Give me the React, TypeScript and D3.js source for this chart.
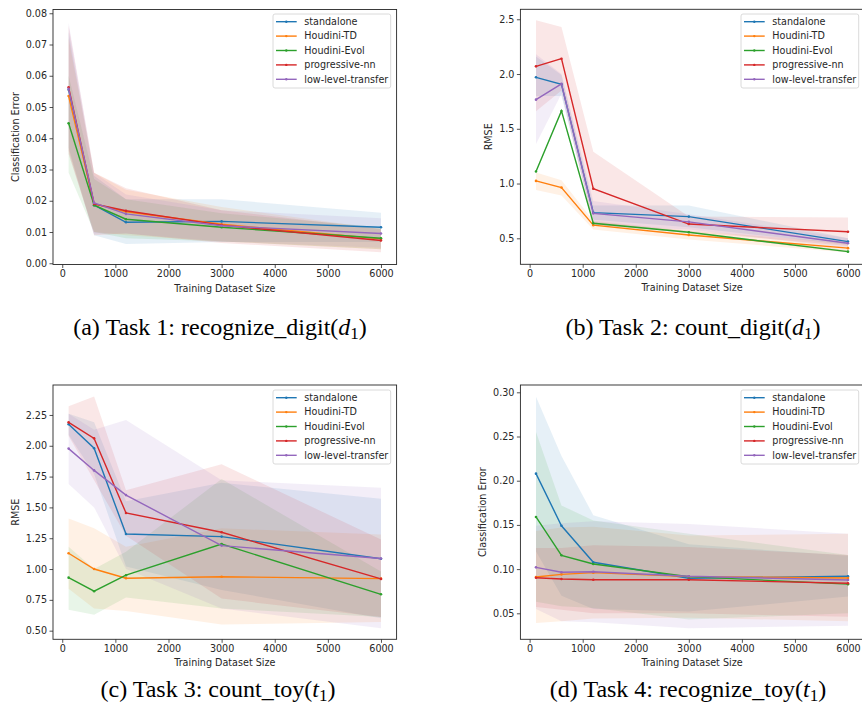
import { useEffect, useRef } from "react";
import * as d3 from "d3";

// training set sizes (x) shared by all four tasks
const sizes = [120, 600, 1200, 3000, 6000];
const methods = ["standalone", "Houdini-TD", "Houdini-Evol", "progressive-nn", "low-level-transfer"];
const colors = ["#1f77b4", "#ff7f0e", "#2ca02c", "#d62728", "#9467bd"];
const xTicks = [0, 1000, 2000, 3000, 4000, 5000, 6000];

// Task 1: recognize_digit
const task1Mean = [
  [0.0555, 0.0186, 0.0131, 0.0134, 0.0115],
  [0.0535, 0.019, 0.0165, 0.0125, 0.0078],
  [0.0448, 0.0186, 0.0141, 0.0115, 0.008],
  [0.0563, 0.019, 0.0168, 0.0122, 0.0073],
  [0.0558, 0.0193, 0.0158, 0.012, 0.0095],
];
const task1Upper = [
  [0.074, 0.028, 0.0205, 0.0205, 0.0162],
  [0.072, 0.029, 0.0235, 0.018, 0.011],
  [0.06, 0.027, 0.0205, 0.016, 0.0115],
  [0.076, 0.029, 0.024, 0.017, 0.011],
  [0.077, 0.029, 0.022, 0.017, 0.0144],
];
const task1Lower = [
  [0.037, 0.009, 0.0062, 0.0068, 0.0068],
  [0.035, 0.01, 0.009, 0.007, 0.0045],
  [0.029, 0.01, 0.008, 0.007, 0.0045],
  [0.036, 0.009, 0.0095, 0.0065, 0.0035],
  [0.035, 0.0095, 0.0095, 0.007, 0.005],
];
const task1YTicks = [0, 0.01, 0.02, 0.03, 0.04, 0.05, 0.06, 0.07, 0.08];

// Task 2: count_digit
const task2Mean = [
  [1.97, 1.906, 0.734, 0.698, 0.47],
  [1.024, 0.963, 0.62, 0.53, 0.41],
  [1.11, 1.663, 0.637, 0.555, 0.378],
  [2.07, 2.14, 0.953, 0.63, 0.56],
  [1.766, 1.91, 0.728, 0.65, 0.455],
];
const task2Upper = [
  [2.16, 1.99, 0.8, 0.8, 0.5],
  [1.1, 1.03, 0.66, 0.57, 0.46],
  [1.12, 1.67, 0.65, 0.565, 0.39],
  [2.49, 2.43, 1.29, 0.7, 0.69],
  [2.18, 2.0, 0.84, 0.72, 0.5],
];
const task2Lower = [
  [1.8, 1.8, 0.67, 0.6, 0.44],
  [0.94, 0.89, 0.58, 0.49, 0.37],
  [1.1, 1.655, 0.625, 0.545, 0.37],
  [1.66, 1.85, 0.62, 0.56, 0.43],
  [1.36, 1.82, 0.62, 0.58, 0.41],
];
const task2YTicks = [0.5, 1.0, 1.5, 2.0, 2.5];

// Task 3: count_toy
const task3Mean = [
  [2.174, 1.98, 1.284, 1.263, 1.084],
  [1.128, 1.0, 0.925, 0.938, 0.922],
  [0.93, 0.82, 0.95, 1.203, 0.795],
  [2.19, 2.06, 1.455, 1.298, 0.92],
  [1.977, 1.8, 1.6, 1.19, 1.085],
];
const task3Upper = [
  [2.26, 2.19, 1.55, 1.7, 1.57],
  [1.41, 1.33, 1.18, 1.33, 1.28],
  [1.18, 1.0, 1.14, 1.73, 0.98],
  [2.32, 2.4, 1.64, 1.85, 1.24],
  [2.26, 2.13, 2.21, 1.72, 1.66],
];
const task3Lower = [
  [2.09, 1.77, 1.02, 0.83, 0.6],
  [0.84, 0.68, 0.66, 0.55, 0.57],
  [0.67, 0.63, 0.77, 0.68, 0.61],
  [2.08, 1.72, 1.27, 0.76, 0.61],
  [1.69, 1.5, 1.0, 0.68, 0.52],
];
const task3YTicks = [0.5, 0.75, 1.0, 1.25, 1.5, 1.75, 2.0, 2.25];

// Task 4: recognize_toy
const task4Mean = [
  [0.208, 0.149, 0.1077, 0.0896, 0.092],
  [0.091, 0.094, 0.096, 0.0915, 0.09],
  [0.159, 0.1156, 0.1058, 0.0915, 0.083],
  [0.0903, 0.0888, 0.088, 0.088, 0.084],
  [0.102, 0.0964, 0.097, 0.092, 0.0877],
];
const task4Upper = [
  [0.295, 0.228, 0.161, 0.128, 0.115],
  [0.143, 0.147, 0.148, 0.138, 0.14],
  [0.255, 0.172, 0.155, 0.14, 0.116],
  [0.124, 0.124, 0.127, 0.125, 0.116],
  [0.149, 0.152, 0.154, 0.151, 0.14],
];
const task4Lower = [
  [0.12, 0.07, 0.055, 0.052, 0.069],
  [0.039, 0.041, 0.044, 0.045, 0.041],
  [0.063, 0.058, 0.056, 0.043, 0.05],
  [0.057, 0.054, 0.05, 0.05, 0.046],
  [0.055, 0.041, 0.04, 0.033, 0.036],
];
const task4YTicks = [0.05, 0.1, 0.15, 0.2, 0.25, 0.3];

const captions = [
  { label: "(a) Task 1: recognize_digit(", v: "d", sub: "1" },
  { label: "(b) Task 2: count_digit(", v: "d", sub: "1" },
  { label: "(c) Task 3: count_toy(", v: "t", sub: "1" },
  { label: "(d) Task 4: recognize_toy(", v: "t", sub: "1" },
];

const panels = [
  { box: { left: 53, right: 396.6, top: 9.5, bottom: 264.5 }, yDomain: [-0.0004, 0.0812], yTicks: task1YTicks, fmt: ".2f", ylabel: "Classification Error", ylabelX: 16, mean: task1Mean, lower: task1Lower, upper: task1Upper, legend: { x: 273, y: 14 }, cap: { x: 220, y: 335 } },
  { box: { left: 520.4, right: 863.6, top: 9.3, bottom: 264.3 }, yDomain: [0.2626, 2.591], yTicks: task2YTicks, fmt: ".1f", ylabel: "RMSE", ylabelX: 489, mean: task2Mean, lower: task2Lower, upper: task2Upper, legend: { x: 741, y: 14 }, cap: { x: 693, y: 335 } },
  { box: { left: 53, right: 396.6, top: 385, bottom: 639.3 }, yDomain: [0.43, 2.493], yTicks: task3YTicks, fmt: ".2f", ylabel: "RMSE", ylabelX: 16, mean: task3Mean, lower: task3Lower, upper: task3Upper, legend: { x: 273, y: 390 }, cap: { x: 218, y: 697 } },
  { box: { left: 520.4, right: 863.6, top: 385, bottom: 639.3 }, yDomain: [0.0206, 0.30826], yTicks: task4YTicks, fmt: ".2f", ylabel: "Classification Error", ylabelX: 483, mean: task4Mean, lower: task4Lower, upper: task4Upper, legend: { x: 741, y: 390 }, cap: { x: 688, y: 697 } },
];

const font = "'DejaVu Sans', sans-serif";
const ink = "#262626";

export default function App() {
  const svgRef = useRef<SVGSVGElement>(null);

  useEffect(() => {
    if (!svgRef.current) return;
    const svg = d3.select(svgRef.current);
    svg.selectAll("*").remove();

    panels.forEach((p, pi) => {
      const { left, right, top, bottom } = p.box;
      const x = d3.scaleLinear().domain([-174, 6294]).range([left, right]);
      const y = d3.scaleLinear().domain(p.yDomain).range([bottom, top]);
      const g = svg.append("g");

      const clipId = `clip-${pi}`;
      g.append("clipPath")
        .attr("id", clipId)
        .append("rect")
        .attr("x", left)
        .attr("y", top)
        .attr("width", right - left)
        .attr("height", bottom - top);

      const plot = g.append("g").attr("clip-path", `url(#${clipId})`);

      // std bands
      methods.forEach((_, s) => {
        const area = d3
          .area<number>()
          .x((_, i) => x(sizes[i]))
          .y0((_, i) => y(p.lower[s][i]))
          .y1((_, i) => y(p.upper[s][i]));
        plot
          .append("path")
          .attr("d", area(sizes)!)
          .attr("fill", colors[s])
          .attr("fill-opacity", 0.11)
          .attr("stroke", "none");
      });

      // mean lines
      const line = d3
        .line<number>()
        .x((_, i) => x(sizes[i]))
        .y((d) => y(d));
      methods.forEach((_, s) => {
        plot
          .append("path")
          .datum(p.mean[s])
          .attr("d", line)
          .attr("fill", "none")
          .attr("stroke", colors[s])
          .attr("stroke-width", 1.4);
        plot
          .selectAll(null)
          .data(p.mean[s])
          .enter()
          .append("circle")
          .attr("cx", (_, i) => x(sizes[i]))
          .attr("cy", (d) => y(d))
          .attr("r", 1.3)
          .attr("fill", colors[s]);
      });

      // axes
      const xAxis = g
        .append("g")
        .attr("transform", `translate(0,${bottom})`)
        .call(d3.axisBottom(x).tickValues(xTicks).tickSize(3.5).tickPadding(2.5).tickFormat(d3.format("d")));
      const yAxis = g
        .append("g")
        .attr("transform", `translate(${left},0)`)
        .call(d3.axisLeft(y).tickValues(p.yTicks).tickSize(3.5).tickPadding(2.5).tickFormat(d3.format(p.fmt)));
      [xAxis, yAxis].forEach((a) => {
        a.select(".domain").remove();
        a.selectAll("line").attr("stroke", ink).attr("stroke-width", 0.8);
        a.selectAll("text").attr("fill", ink).style("font-family", font).style("font-size", "9.6px");
      });

      // frame
      g.append("rect")
        .attr("x", left)
        .attr("y", top)
        .attr("width", right - left)
        .attr("height", bottom - top)
        .attr("fill", "none")
        .attr("stroke", ink)
        .attr("stroke-width", 0.9);

      // axis labels
      g.append("text")
        .attr("x", (x(-174) + x(6294)) / 2)
        .attr("y", bottom + 27)
        .attr("text-anchor", "middle")
        .attr("fill", ink)
        .style("font-family", font)
        .style("font-size", "9.6px")
        .text("Training Dataset Size");
      g.append("text")
        .attr("transform", `translate(${p.ylabelX},${(top + bottom) / 2}) rotate(-90)`)
        .attr("text-anchor", "middle")
        .attr("dy", "0.35em")
        .attr("fill", ink)
        .style("font-family", font)
        .style("font-size", "9.6px")
        .text(p.ylabel);

      // legend
      const lg = g.append("g").attr("transform", `translate(${p.legend.x},${p.legend.y})`);
      lg.append("rect")
        .attr("width", 117.7)
        .attr("height", 74)
        .attr("rx", 2)
        .attr("fill", "white")
        .attr("fill-opacity", 0.8)
        .attr("stroke", "#d0d0d0")
        .attr("stroke-width", 0.8);
      methods.forEach((m, s) => {
        const yy = 7.7 + s * 14.4;
        lg.append("line")
          .attr("x1", 3)
          .attr("x2", 23.7)
          .attr("y1", yy)
          .attr("y2", yy)
          .attr("stroke", colors[s])
          .attr("stroke-width", 1.4);
        lg.append("circle").attr("cx", 13.3).attr("cy", yy).attr("r", 1.2).attr("fill", colors[s]);
        lg.append("text")
          .attr("x", 31.3)
          .attr("y", yy)
          .attr("dy", "0.35em")
          .attr("fill", ink)
          .style("font-family", font)
          .style("font-size", "9.6px")
          .text(m);
      });

      // caption
      const c = captions[pi];
      const t = g
        .append("text")
        .attr("x", p.cap.x)
        .attr("y", p.cap.y)
        .attr("text-anchor", "middle")
        .attr("fill", "black")
        .style("font-family", "'Liberation Serif', 'Times New Roman', serif")
        .style("font-size", "24px");
      t.append("tspan").text(c.label);
      t.append("tspan").style("font-style", "italic").text(c.v);
      t.append("tspan").attr("dy", 4).style("font-size", "17px").text(c.sub);
      t.append("tspan").attr("dy", -4).text(")");
    });
  }, []);

  return (
    <svg
      ref={svgRef}
      width={862}
      height={719}
      style={{ position: "absolute", left: 0, top: 0, background: "white" }}
    />
  );
}
